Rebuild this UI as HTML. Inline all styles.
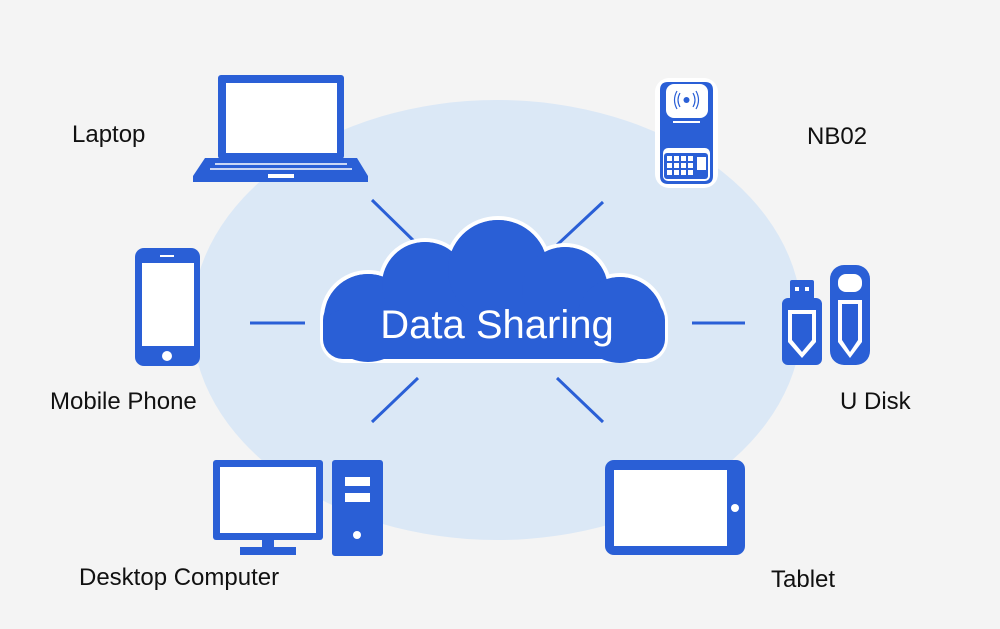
<!DOCTYPE html>
<html><head><style>
html,body{margin:0;padding:0;background:#f4f4f4;}
svg{display:block;}
text{font-family:"Liberation Sans",Arial,sans-serif;}
</style></head><body>
<svg width="1000" height="629" viewBox="0 0 1000 629">
<rect width="1000" height="629" fill="#f4f4f4"/>
<ellipse cx="497" cy="320" rx="305" ry="220" fill="#dbe8f6"/>
<!-- connectors -->
<g stroke="#2a5fd6" stroke-width="3">
<line x1="372" y1="200" x2="418" y2="245"/>
<line x1="557" y1="245" x2="603" y2="202"/>
<line x1="250" y1="323" x2="305" y2="323"/>
<line x1="692" y1="323" x2="745" y2="323"/>
<line x1="372" y1="422" x2="418" y2="378"/>
<line x1="557" y1="378" x2="603" y2="422"/>
</g>
<!-- cloud -->
<g fill="#2a5fd6" stroke="#fff" stroke-width="4">
<circle cx="368" cy="318" r="46"/>
<circle cx="425" cy="285" r="45"/>
<circle cx="498" cy="270" r="52"/>
<circle cx="565" cy="290" r="45"/>
<circle cx="620" cy="320" r="45"/>
</g>
<rect x="318" y="330" width="352" height="40" fill="#dbe8f6"/>
<rect x="320" y="296" width="348" height="67" rx="24" fill="#fff"/>
<rect x="323" y="298" width="342" height="61" rx="22" fill="#2a5fd6"/>
<g fill="#2a5fd6">
<circle cx="368" cy="318" r="44"/>
<circle cx="425" cy="285" r="43"/>
<circle cx="498" cy="270" r="50"/>
<circle cx="565" cy="290" r="43"/>
<circle cx="620" cy="320" r="43"/>
</g>
<rect x="323" y="310" width="342" height="49" rx="20" fill="#2a5fd6"/>
<text x="497" y="338" font-size="40" fill="#fff" text-anchor="middle">Data Sharing</text>
<!-- laptop -->
<rect x="218" y="75" width="126" height="84" rx="3" fill="#2a5fd6"/>
<rect x="226" y="83" width="111" height="70" fill="#fff"/>
<path d="M205 158 H357 L368 176 V182 H193 V176 Z" fill="#2a5fd6"/>
<g stroke="#fff" stroke-width="1.5">
<line x1="215" y1="164" x2="347" y2="164"/>
<line x1="210" y1="169" x2="352" y2="169"/>
</g>
<rect x="268" y="174" width="26" height="4" fill="#fff"/>
<!-- NB02 -->
<rect x="655" y="78" width="63" height="110" rx="14" fill="#fff"/>
<path d="M660 90 Q660 82 668 82 H705 Q713 82 713 90 V118 H660 Z" fill="#2a5fd6"/>
<rect x="666" y="84" width="42" height="34" rx="8" fill="#fff"/>
<rect x="660" y="118" width="53" height="28" fill="#2a5fd6"/>
<rect x="673" y="121" width="27" height="2" fill="#fff"/>
<path d="M660 146 Q686 138 713 146 V176 Q713 184 705 184 H668 Q660 184 660 176 Z" fill="#2a5fd6"/>
<rect x="663" y="148" width="47" height="33" rx="5" fill="#fff"/>
<rect x="664" y="153" width="44" height="26" rx="3" fill="#2a5fd6"/>
<g fill="#fff">
<rect x="667" y="156" width="5" height="5"/><rect x="674" y="156" width="5" height="5"/><rect x="681" y="156" width="5" height="5"/><rect x="688" y="156" width="5" height="5"/>
<rect x="667" y="163" width="5" height="5"/><rect x="674" y="163" width="5" height="5"/><rect x="681" y="163" width="5" height="5"/><rect x="688" y="163" width="5" height="5"/>
<rect x="667" y="170" width="5" height="5"/><rect x="674" y="170" width="5" height="5"/><rect x="681" y="170" width="5" height="5"/><rect x="688" y="170" width="5" height="5"/>
<rect x="697" y="157" width="9" height="13"/>
</g>
<g fill="none" stroke="#2a5fd6" stroke-width="1.2">
<path d="M680 93 Q676 100 680 107"/><path d="M677 91 Q672 100 677 109"/>
<path d="M693 93 Q697 100 693 107"/><path d="M696 91 Q701 100 696 109"/>
</g>
<circle cx="686.5" cy="100" r="3" fill="#2a5fd6"/>
<!-- phone -->
<rect x="135" y="248" width="65" height="118" rx="9" fill="#2a5fd6"/>
<rect x="142" y="263" width="52" height="83" fill="#fff"/>
<circle cx="167" cy="356" r="5" fill="#fff"/>
<rect x="160" y="255" width="14" height="2" fill="#fff"/>
<!-- U disk -->
<g fill="#2a5fd6">
<rect x="790" y="280" width="24" height="20" rx="2"/>
<rect x="782" y="298" width="40" height="67" rx="6"/>
<rect x="830" y="265" width="40" height="100" rx="14"/>
</g>
<g fill="#fff">
<rect x="795" y="287" width="4" height="4"/><rect x="805" y="287" width="4" height="4"/>
<path d="M788 310 H816 V342 L802 358 L788 342 Z"/>
<rect x="838" y="274" width="24" height="18" rx="8"/>
<path d="M838 300 H862 V342 L850 358 L838 342 Z"/>
</g>
<g fill="#2a5fd6">
<path d="M792 314 H812 V340 L802 352 L792 340 Z"/>
<path d="M842 304 H858 V340 L850 352 L842 340 Z"/>
</g>
<!-- desktop -->
<rect x="213" y="460" width="110" height="80" rx="3" fill="#2a5fd6"/>
<rect x="220" y="467" width="96" height="66" fill="#fff"/>
<rect x="262" y="540" width="12" height="8" fill="#2a5fd6"/>
<rect x="240" y="547" width="56" height="8" fill="#2a5fd6"/>
<rect x="332" y="460" width="51" height="96" rx="3" fill="#2a5fd6"/>
<rect x="345" y="477" width="25" height="9" fill="#fff"/>
<rect x="345" y="493" width="25" height="9" fill="#fff"/>
<circle cx="357" cy="535" r="4" fill="#fff"/>
<!-- tablet -->
<rect x="605" y="460" width="140" height="95" rx="9" fill="#2a5fd6"/>
<rect x="614" y="470" width="113" height="76" fill="#fff"/>
<circle cx="735" cy="508" r="4" fill="#fff"/>
<!-- labels -->
<g font-size="24" fill="#111">
<text x="72" y="142">Laptop</text>
<text x="807" y="144">NB02</text>
<text x="50" y="409">Mobile Phone</text>
<text x="840" y="409">U Disk</text>
<text x="79" y="585">Desktop Computer</text>
<text x="771" y="587">Tablet</text>
</g>
</svg>
</body></html>
